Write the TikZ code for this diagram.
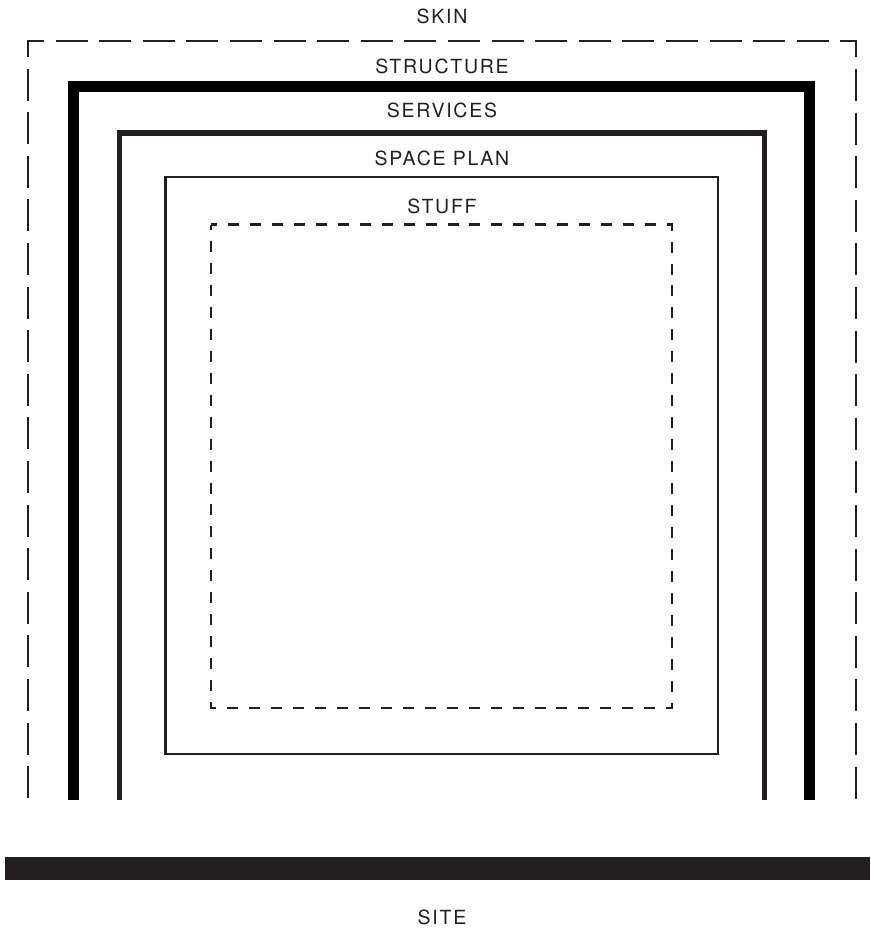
\documentclass[tikz,border=0pt]{standalone}
\usepackage{fontspec}
\newfontfamily\layerfont[LetterSpace=9]{TeX Gyre Heros}
\definecolor{ink}{HTML}{231F20}
\begin{document}
\begin{tikzpicture}[x=1pt, y=-1pt]

% Set the overall page size
\useasboundingbox (0,0) rectangle (870,931);

% Define styles for layers and labels
\tikzstyle{layer} = [draw=ink, line join=miter, line cap=butt]
\tikzstyle{skinline} = [layer, line width=2.8pt, dash pattern=on 32pt off 11.6pt, dash phase=41.8pt]
\tikzstyle{stuffline} = [layer, line width=2.6pt, dash pattern=on 11pt off 10.96pt, dash phase=5.5pt]
\tikzstyle{tag} = [anchor=base, inner sep=0pt, text=ink, font=\layerfont\fontsize{19.5}{22}\selectfont]

% Layers from outside to inside
\draw[skinline] (28,800) -- (28,41) -- (856,41) -- (856,800);
\draw[layer, draw=black, line width=11pt] (73.5,800) -- (73.5,86.5) -- (809.5,86.5) -- (809.5,800);
\draw[layer, line width=5.5pt] (119.3,800) -- (119.3,133) -- (764.3,133) -- (764.3,800);
\draw[layer, line width=2.5pt] (165.7,177.2) rectangle (718,754);
\draw[stuffline] (211,224.5) rectangle (672,708);

% Ground
\fill[ink] (5,857) rectangle (870,880);

% Labels
\node[tag] (skin) at (442,23.5) {SKIN};
\node[tag] (structure) at (442,74) {STRUCTURE};
\node[tag] (services) at (442,117.7) {SERVICES};
\node[tag] (spaceplan) at (442,165) {SPACE PLAN};
\node[tag] (stuff) at (442,213) {STUFF};
\node[tag] (site) at (442,924) {SITE};
\end{tikzpicture}
\end{document}
